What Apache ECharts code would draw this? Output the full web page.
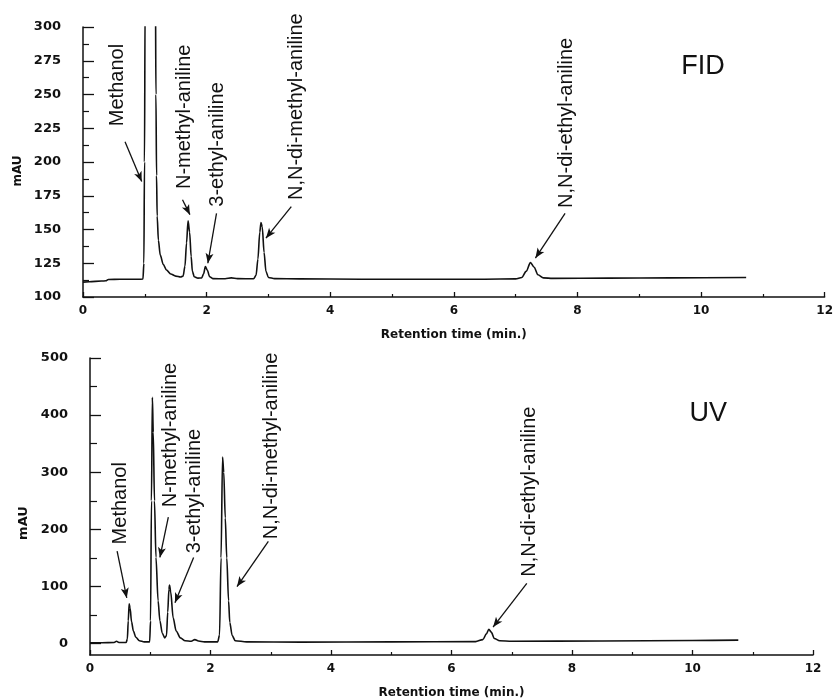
<!DOCTYPE html>
<html style="height: 100%">
<head>
    <meta charset="utf-8">
    <script src="https://cdn.jsdelivr.net/npm/echarts@6/dist/echarts.min.js"></script>
</head>
<body style="height: 100%; margin: 0; background: #fff">
<div id="chart" style="width: 836px; height: 700px;"></div>
<script type="text/javascript">
// chromatogram traces, [time (min), mAU]
var fidTrace = [
    [0, 111], [0.1, 111.3], [0.3, 111.8], [0.37, 112], [0.41, 113], [0.6, 113.1], [0.9, 113.1],
    [0.97, 113.3], [0.985, 125], [0.995, 200], [1.005, 320], [1.09, 600], [1.172, 330],
    [1.18, 250], [1.19, 190], [1.2, 160], [1.22, 142], [1.25, 131], [1.3, 124], [1.35, 120],
    [1.42, 117], [1.5, 115.5], [1.58, 114.8], [1.62, 115.5], [1.65, 123], [1.675, 140],
    [1.7, 156.5], [1.725, 148], [1.75, 130], [1.77, 119], [1.8, 115], [1.86, 114], [1.92, 114.2],
    [1.95, 117], [1.98, 122.5], [2.01, 120], [2.05, 115], [2.1, 113.6], [2.3, 113.5], [2.4, 114.2],
    [2.5, 113.6], [2.76, 113.5], [2.8, 116], [2.83, 128], [2.86, 148], [2.88, 155.2], [2.9, 152],
    [2.93, 133], [2.96, 119], [3.0, 114.5], [3.1, 113.6], [3.5, 113.4], [4.5, 113.2], [5.5, 113.1],
    [6.5, 113.2], [7.0, 113.4], [7.1, 114.5], [7.17, 119], [7.24, 125.5], [7.3, 122], [7.36, 116.5],
    [7.45, 114.2], [7.6, 113.8], [8.5, 114], [9.5, 114.2], [10.73, 114.5]
];
var uvTrace = [
    [0, 1.5], [0.2, 1.5], [0.4, 2], [0.44, 4], [0.48, 2], [0.6, 2], [0.62, 8], [0.635, 40],
    [0.65, 69.7], [0.665, 62], [0.69, 38], [0.72, 22], [0.76, 11], [0.82, 5], [0.9, 3], [0.99, 3],
    [1.005, 40], [1.02, 250], [1.035, 431], [1.05, 370], [1.07, 250], [1.095, 151], [1.13, 75],
    [1.16, 40], [1.2, 18], [1.24, 10], [1.27, 14], [1.29, 55], [1.31, 95], [1.32, 102.5],
    [1.34, 90], [1.38, 45], [1.43, 22], [1.5, 10], [1.58, 5], [1.68, 4], [1.74, 7], [1.8, 4.5],
    [1.9, 3], [2.12, 3], [2.15, 15], [2.175, 150], [2.2, 326.5], [2.22, 300], [2.245, 220],
    [2.27, 150], [2.3, 75], [2.32, 37], [2.36, 14], [2.41, 5], [2.6, 3], [3.5, 2.5], [5, 3],
    [6.4, 3.5], [6.52, 7], [6.58, 17], [6.62, 25], [6.66, 20], [6.71, 9], [6.8, 5], [7, 4],
    [8.5, 4.5], [10, 5.5], [10.76, 6]
];

var peakNames = ['Methanol', 'N-methyl-aniline', '3-ethyl-aniline', 'N,N-di-methyl-aniline', 'N,N-di-ethyl-aniline'];
// label centres and arrows (tail -> head) in data units
var fidLabelAt = [[0.565, 257], [1.645, 233.5], [2.18, 213], [3.45, 241], [7.82, 229]];
var fidArrows = [
    [[0.68, 215], [0.95, 185.5]],
    [[1.61, 172], [1.73, 161]],
    [[2.16, 162], [2.02, 125]],
    [[3.37, 167], [2.96, 143.6]],
    [[7.80, 162], [7.32, 128.8]]
];
var uvLabelAt = [[0.50, 245.7], [1.33, 365], [1.74, 267], [3.02, 346], [7.30, 266]];
var uvArrows = [
    [[0.45, 162], [0.61, 80]],
    [[1.30, 221.6], [1.16, 150.8]],
    [[1.72, 150.8], [1.41, 71.4]],
    [[2.96, 179], [2.44, 99.8]],
    [[7.25, 105.4], [6.69, 28.9]]
];
var detectorNames = ['FID', 'UV'];
var detectorAt = [[10.03, 271], [10.26, 403]];

var uvMajorTicks = [0, 100, 200, 300, 400, 500];
var uvMinorTicks = [50, 150, 250, 350, 450];

var ink = '#111';
var tickFont = {color: ink, fontFamily: 'DejaVu Sans', fontWeight: 'bold', fontSize: 12};

function arrowLines(list) {
    return list.map(function (a) {
        return [{coord: a[0]}, {coord: a[1]}];
    });
}
function labelPoints(pos) {
    return pos.map(function (p, i) {
        return {value: p, name: peakNames[i]};
    });
}
function xAxisFor(grid, gap) {
    return {
        type: 'value', gridIndex: grid, min: 0, max: 12, interval: 2,
        name: 'Retention time (min.)', nameLocation: 'middle', nameGap: gap,
        nameTextStyle: {color: ink, fontFamily: 'DejaVu Sans', fontWeight: 'bold', fontSize: 12},
        axisLine: {onZero: false, lineStyle: {color: ink, width: 1.5}},
        axisTick: {inside: true, length: 5, lineStyle: {color: ink, width: 1.3}},
        minorTick: {show: true, splitNumber: 2, length: 3, lineStyle: {color: ink, width: 1.2}},
        axisLabel: Object.assign({margin: 8}, tickFont),
        splitLine: {show: false}
    };
}
function traceSeries(idx, data, arrows) {
    return {
        type: 'line', xAxisIndex: idx, yAxisIndex: idx, data: data,
        showSymbol: false, smooth: 0.3, smoothMonotone: 'x', silent: true,
        lineStyle: {color: ink, width: 1.6},
        markLine: {
            silent: true, symbol: ['none', 'arrow'], symbolSize: [6, 10],
            label: {show: false},
            lineStyle: {color: ink, width: 1.3, type: 'solid'},
            emphasis: {disabled: true},
            data: arrowLines(arrows)
        }
    };
}
function textSeries(idx, points, size, rotate) {
    return {
        type: 'scatter', xAxisIndex: idx, yAxisIndex: idx, symbolSize: 0, silent: true,
        itemStyle: {opacity: 1},
        data: points,
        label: {
            show: true, position: 'inside', rotate: rotate, formatter: '{b}', opacity: 1,
            color: ink, fontFamily: 'Liberation Sans', fontSize: size
        }
    };
}

var myChart = echarts.init(document.getElementById('chart'));
var option = {
    animation: false,
    backgroundColor: '#fff',
    grid: [
        {left: 83, top: 27, width: 744, height: 270},
        {left: 90, top: 358, width: 723, height: 303}
    ],
    xAxis: [xAxisFor(0, 32), xAxisFor(1, 32)],
    yAxis: [
        {
            type: 'value', gridIndex: 0, min: 100, max: 300, interval: 25, position: 'left',
            axisLine: {show: true, lineStyle: {color: ink, width: 1.5}},
            axisTick: {inside: true, length: 11, lineStyle: {color: ink, width: 1.3}},
            minorTick: {show: true, splitNumber: 2, length: 6, lineStyle: {color: ink, width: 1.2}},
            axisLabel: Object.assign({margin: 22}, tickFont, {fontSize: 13}),
            splitLine: {show: false}
        },
        {
            type: 'value', gridIndex: 1, min: -20, max: 500, position: 'left',
            axisLine: {show: true, lineStyle: {color: ink, width: 1.5}},
            axisTick: {inside: true, length: 11, customValues: uvMajorTicks, lineStyle: {color: ink, width: 1.3}},
            axisLabel: Object.assign({margin: 22, customValues: uvMajorTicks}, tickFont, {fontSize: 13}),
            splitLine: {show: false}
        },
        {
            type: 'value', gridIndex: 1, min: -20, max: 500, position: 'left',
            axisLine: {show: false},
            axisTick: {inside: true, length: 7, customValues: uvMinorTicks, lineStyle: {color: ink, width: 1.2}},
            axisLabel: {show: false},
            splitLine: {show: false}
        }
    ],
    graphic: [
        {type: 'text', x: 18, y: 171, rotation: Math.PI / 2,
            style: {text: 'mAU', fill: ink, font: 'bold 12px "DejaVu Sans"', align: 'center', verticalAlign: 'middle'}},
        {type: 'text', x: 24, y: 523, rotation: Math.PI / 2,
            style: {text: 'mAU', fill: ink, font: 'bold 13px "DejaVu Sans"', align: 'center', verticalAlign: 'middle'}}
    ],
    series: [
        traceSeries(0, fidTrace, fidArrows),
        textSeries(0, labelPoints(fidLabelAt), 20, 90),
        traceSeries(1, uvTrace, uvArrows),
        textSeries(1, labelPoints(uvLabelAt), 20, 90),
        textSeries(0, [{value: detectorAt[0], name: detectorNames[0]}], 27, 0),
        textSeries(1, [{value: detectorAt[1], name: detectorNames[1]}], 27, 0)
    ]
};
myChart.setOption(option);
</script>
</body>
</html>
